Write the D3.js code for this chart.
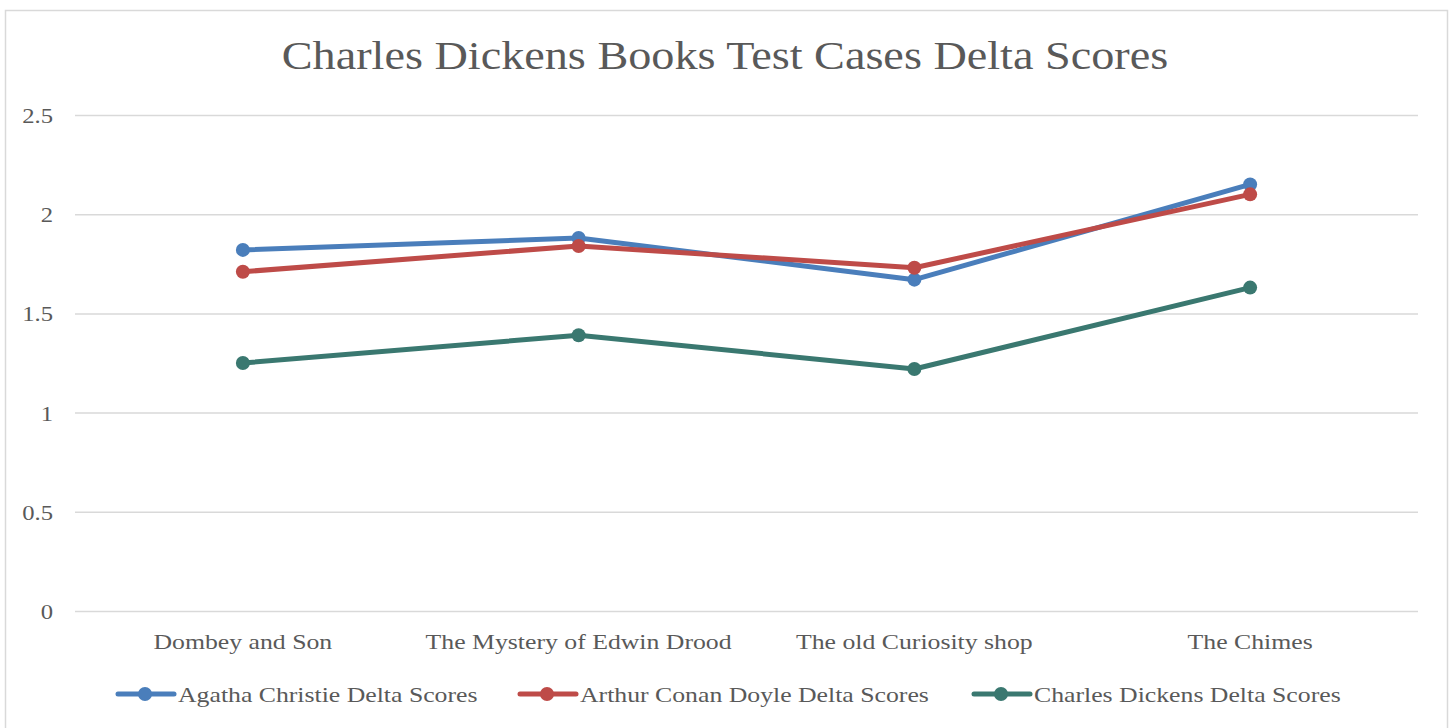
<!DOCTYPE html>
<html>
<head>
<meta charset="utf-8">
<script src="https://cdn.jsdelivr.net/npm/d3@7"></script>
<style>
  body { margin: 0; background: #fff; }
  svg text { font-family: "Liberation Serif", "DejaVu Serif", serif; fill: #595959; }
</style>
</head>
<body>
<svg id="chart" width="1454" height="728"></svg>
<script>
var books = ["Dombey and Son", "The Mystery of Edwin Drood", "The old Curiosity shop", "The Chimes"];
var seriesNames = ["Agatha Christie Delta Scores", "Arthur Conan Doyle Delta Scores", "Charles Dickens Delta Scores"];
var agatha = [1.82, 1.88, 1.67, 2.15];
var arthur = [1.71, 1.84, 1.73, 2.10];
var dickens = [1.25, 1.39, 1.22, 1.63];
var yTicks = [0, 0.5, 1, 1.5, 2, 2.5];
var colors = ["#4a7ebb", "#be4b48", "#3a7870"];

var series = [agatha, arthur, dickens];

// original font is wider than Liberation Serif, so stretch text a bit
function widen(f) {
    return function (sel) {
        sel.each(function () {
            var w = this.getComputedTextLength();
            d3.select(this).attr("textLength", w * f).attr("lengthAdjust", "spacingAndGlyphs");
        });
    };
}

var svg = d3.select("#chart");

// outer frame
svg.append("rect")
    .attr("x", 5.5).attr("y", 10.5)
    .attr("width", 1442).attr("height", 730)
    .attr("fill", "none").attr("stroke", "#d9d9d9").attr("stroke-width", 1.5);

svg.append("text")
    .attr("x", 725).attr("y", 69)
    .attr("text-anchor", "middle")
    .style("font-size", "40px")
    .text("Charles Dickens Books Test Cases Delta Scores")
    .call(widen(1.155));

var x = d3.scaleBand().domain(books).range([75, 1418]);
var y = d3.scaleLinear().domain([0, 2.5]).range([611, 115]);

// gridlines
svg.append("g").selectAll("line")
    .data(yTicks)
    .enter().append("line")
    .attr("x1", 75).attr("x2", 1418)
    .attr("y1", function (d) { return y(d) + 0.5; })
    .attr("y2", function (d) { return y(d) + 0.5; })
    .attr("stroke", "#d9d9d9").attr("stroke-width", 1.5);

svg.append("g").selectAll("text")
    .data(yTicks)
    .enter().append("text")
    .attr("x", 53).attr("y", function (d) { return y(d) + 8; })
    .attr("text-anchor", "end")
    .style("font-size", "22px")
    .text(function (d) { return d; })
    .call(widen(1.12));

svg.append("g").selectAll("text")
    .data(books)
    .enter().append("text")
    .attr("x", function (d) { return x(d) + x.bandwidth() / 2; })
    .attr("y", 649)
    .attr("text-anchor", "middle")
    .style("font-size", "22px")
    .text(function (d) { return d; })
    .call(widen(1.17));

var line = d3.line()
    .x(function (d, i) { return x(books[i]) + x.bandwidth() / 2; })
    .y(function (d) { return y(d); });

series.forEach(function (vals, k) {
    var g = svg.append("g");
    g.append("path")
        .datum(vals)
        .attr("d", line)
        .attr("fill", "none")
        .attr("stroke", colors[k])
        .attr("stroke-width", 5)
        .attr("stroke-linejoin", "round");
    g.selectAll("circle")
        .data(vals)
        .enter().append("circle")
        .attr("cx", function (d, i) { return x(books[i]) + x.bandwidth() / 2; })
        .attr("cy", function (d) { return y(d); })
        .attr("r", 7)
        .attr("fill", colors[k]);
});

// legend
var legendX = [118, 520, 974];
var legend = svg.append("g").selectAll("g")
    .data(seriesNames)
    .enter().append("g")
    .attr("transform", function (d, i) { return "translate(" + legendX[i] + ",694)"; });

legend.append("line")
    .attr("x1", 0).attr("x2", 56)
    .attr("stroke", function (d, i) { return colors[i]; })
    .attr("stroke-width", 5)
    .attr("stroke-linecap", "round");
legend.append("circle")
    .attr("cx", 27).attr("r", 7)
    .attr("fill", function (d, i) { return colors[i]; });
legend.append("text")
    .attr("x", 60).attr("y", 8)
    .style("font-size", "22px")
    .text(function (d) { return d; })
    .call(widen(1.17));
</script>
</body>
</html>
